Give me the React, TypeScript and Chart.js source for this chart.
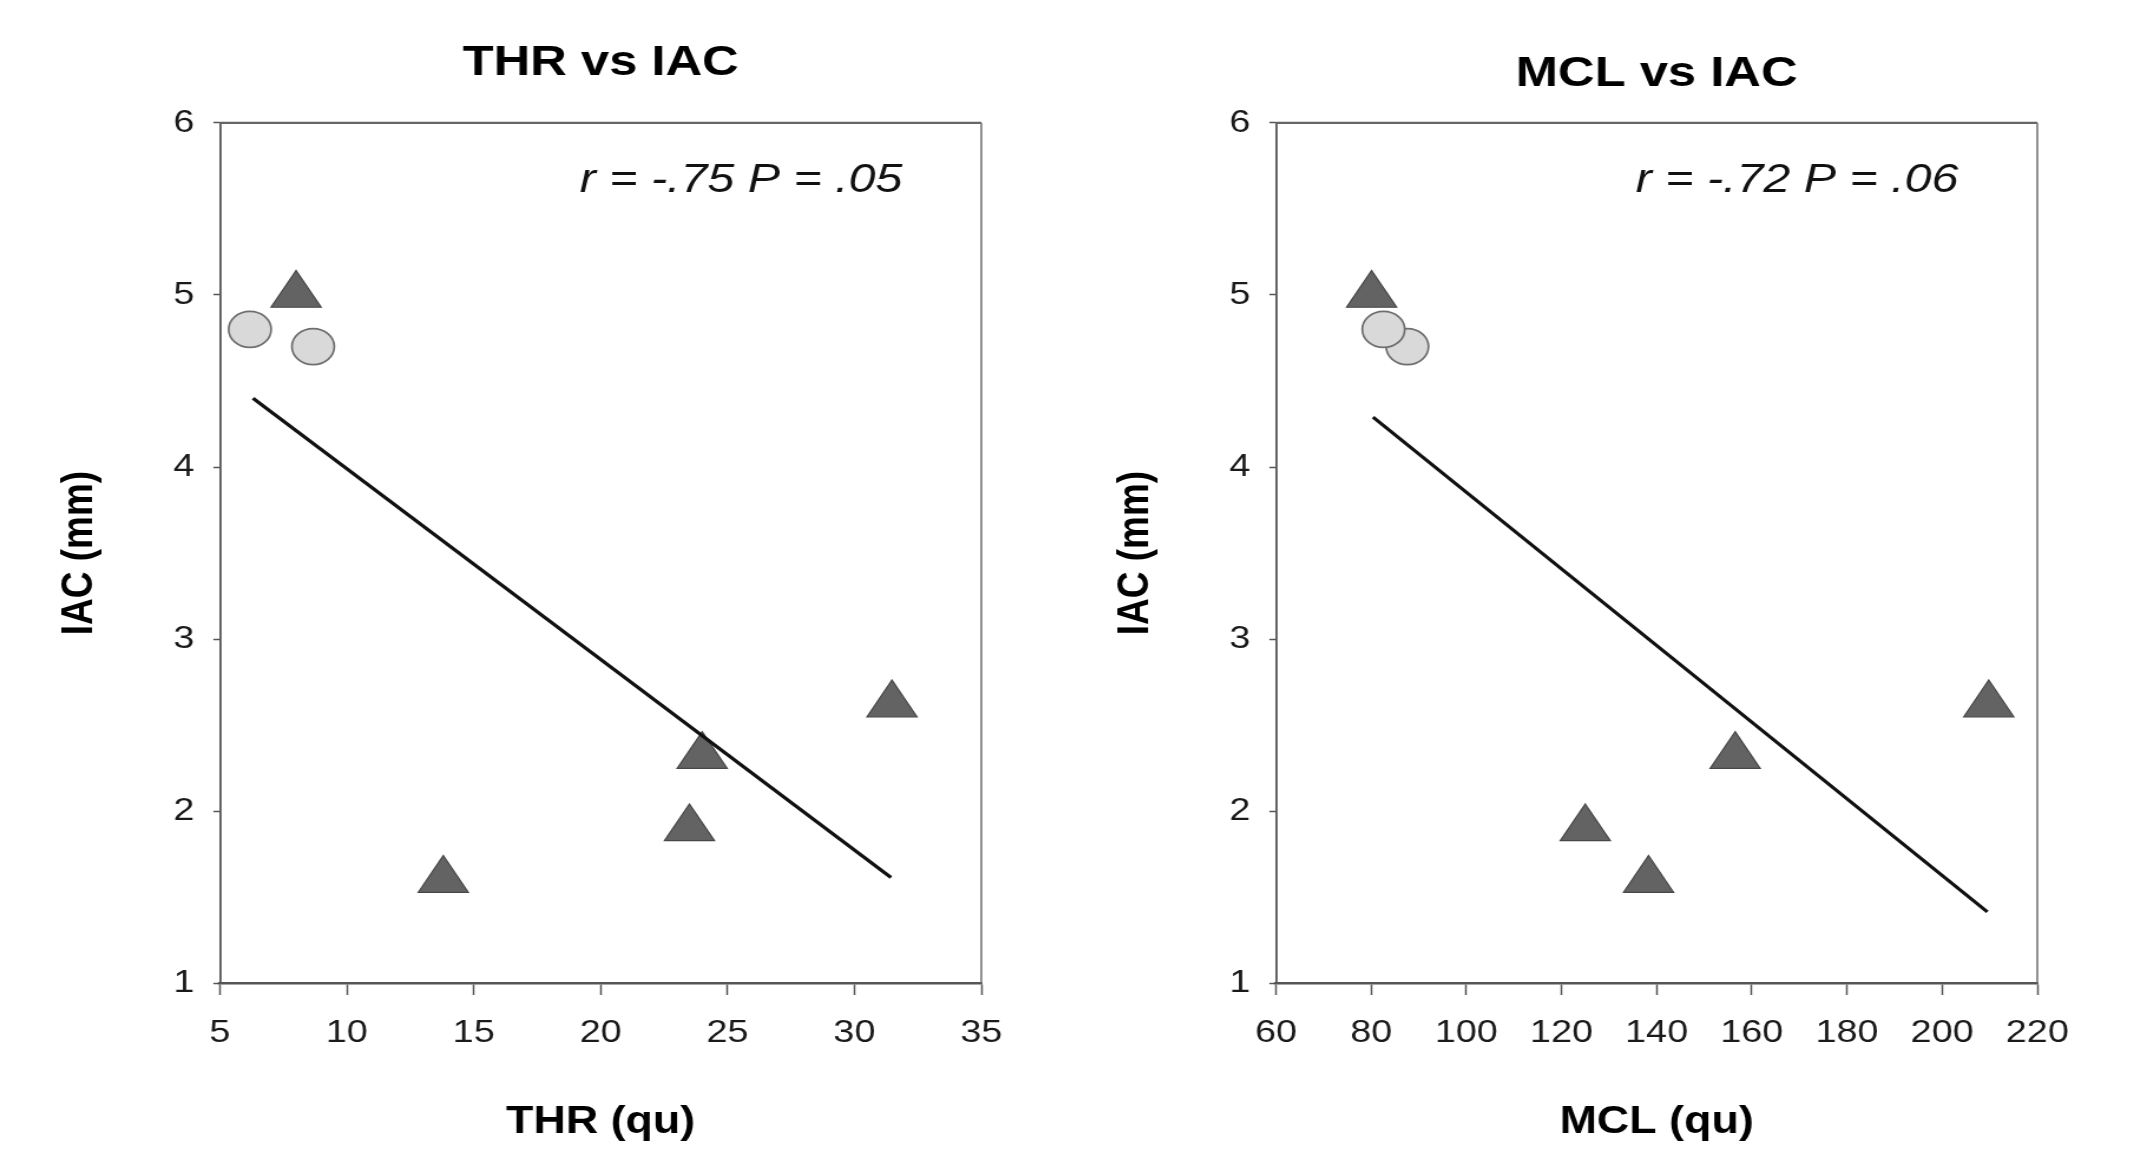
import React, { useEffect, useRef } from 'react';
import { Chart, registerables } from 'chart.js';

Chart.register(...registerables);

// ---- data ----
const iacCircles = [4.7, 4.8];
const thrCircles = [8.67, 6.18];
const mclCircles = [87.6, 82.6];

const iacTriangles = [5.0, 1.6, 1.9, 2.32, 2.62];
const thrTriangles = [8.0, 13.8, 23.5, 24.0, 31.48];
const mclTriangles = [80.1, 138.3, 125.0, 156.5, 209.8];

const thrFitX = [6.3, 31.44];
const thrFitY = [4.4, 1.615];
const mclFitX = [80.4, 209.5];
const mclFitY = [4.29, 1.415];

const panelTitles = ['THR vs IAC', 'MCL vs IAC'];
const xTitles = ['THR (qu)', 'MCL (qu)'];
const yTitle = 'IAC (mm)';
const annotations = ['r = -.75 P = .05', 'r = -.72 P = .06'];
const thrRange = { min: 5, max: 35, step: 5 };
const mclRange = { min: 60, max: 220, step: 20 };
const iacRange = { min: 1, max: 6, step: 1 };

// ---- layout ----
const INTERNAL_W = 886;
const CSS_W = 1045;
const H = 1155;
const FONT = "'Liberation Sans', Arial, Helvetica, sans-serif";

const framePlugin = {
  id: 'frame',
  beforeDatasetsDraw(chart: any) {
    const { ctx, chartArea } = chart;
    const { left, right, top, bottom } = chartArea;
    ctx.save();
    ctx.strokeStyle = '#666';
    ctx.lineWidth = 2.2;
    ctx.beginPath();
    ctx.moveTo(left, top);
    ctx.lineTo(right, top);
    ctx.stroke();
    ctx.lineWidth = 1.6;
    ctx.strokeStyle = '#777';
    ctx.beginPath();
    ctx.moveTo(right, top);
    ctx.lineTo(right, bottom);
    ctx.stroke();
    ctx.restore();
  },
};

const annotationPlugin = {
  id: 'annot',
  afterDatasetsDraw(chart: any, _args: any, opts: any) {
    const { ctx, chartArea } = chart;
    ctx.save();
    ctx.font = `italic 41px ${FONT}`;
    ctx.fillStyle = '#111';
    ctx.textAlign = 'right';
    ctx.textBaseline = 'middle';
    ctx.fillText(opts.text, chartArea.right - 67, chartArea.top + 57.3);
    ctx.restore();
  },
};

type PanelProps = {
  left: number;
  title: string;
  titlePad: { top: number; bottom: number };
  xTitle: string;
  range: { min: number; max: number; step: number };
  circlesX: number[];
  trianglesX: number[];
  fitX: number[];
  fitY: number[];
  annotation: string;
};

function Panel(p: PanelProps) {
  const ref = useRef<HTMLCanvasElement | null>(null);
  useEffect(() => {
    if (!ref.current) return;
    const chart = new Chart(ref.current, {
      type: 'scatter',
      data: {
        datasets: [
          {
            type: 'line',
            data: p.fitX.map((x, i) => ({ x, y: p.fitY[i] })),
            borderColor: '#111',
            borderWidth: 3.2,
            pointRadius: 0,
            showLine: true,
            fill: false,
            order: 0,
          } as any,
          {
            data: p.trianglesX.map((x, i) => ({ x, y: iacTriangles[i] })),
            pointStyle: 'triangle',
            pointRadius: 24.5,
            backgroundColor: '#636363',
            borderColor: '#474747',
            borderWidth: 1.2,
            order: 1,
          },
          {
            data: p.circlesX.map((x, i) => ({ x, y: iacCircles[i] })),
            pointStyle: 'circle',
            pointRadius: 18,
            backgroundColor: '#d9d9d9',
            borderColor: '#6e6e6e',
            borderWidth: 1.7,
            order: 2,
          },
        ],
      },
      options: {
        responsive: false,
        animation: false,
        devicePixelRatio: 1,
        layout: { padding: { left: 0, right: 54, top: 0, bottom: 0 } },
        plugins: {
          legend: { display: false },
          tooltip: { enabled: false },
          title: {
            display: true,
            text: p.title,
            fullSize: false,
            color: '#000',
            font: { size: 43, weight: 'bold', family: FONT },
            padding: p.titlePad,
          },
          annot: { text: p.annotation },
        } as any,
        scales: {
          x: {
            type: 'linear',
            position: 'bottom',
            min: p.range.min,
            max: p.range.max,
            ticks: {
              stepSize: p.range.step,
              color: '#1a1a1a',
              font: { size: 32, family: FONT },
              padding: 19,
              maxRotation: 0,
              autoSkip: false,
            },
            grid: {
              drawOnChartArea: false,
              drawTicks: true,
              tickLength: 11.7,
              tickColor: '#555',
              tickWidth: 1.5,
            },
            border: { display: true, color: '#555', width: 2.5 },
            title: {
              display: true,
              text: p.xTitle,
              color: '#000',
              font: { size: 38, weight: 'bold', family: FONT },
              padding: { top: 0, bottom: 9.2 },
            },
            afterFit: (s: any) => {
              s.height = 171.7;
            },
          },
          y: {
            type: 'linear',
            min: iacRange.min,
            max: iacRange.max,
            ticks: {
              stepSize: iacRange.step,
              color: '#1a1a1a',
              font: { size: 32, family: FONT },
              padding: 16,
            },
            grid: {
              drawOnChartArea: false,
              drawTicks: true,
              tickLength: 5.6,
              tickColor: '#555',
              tickWidth: 1.5,
            },
            border: { display: true, color: '#555', width: 1.8 },
            title: {
              display: true,
              text: yTitle,
              color: '#000',
              font: { size: 37, weight: 'bold', family: FONT },
              padding: { top: 45.6, bottom: 0 },
            },
            afterFit: (s: any) => {
              s.width = 186.5;
            },
          },
        },
      } as any,
      plugins: [framePlugin, annotationPlugin],
    });
    return () => chart.destroy();
  }, []);
  return (
    <canvas
      ref={ref}
      width={INTERNAL_W}
      height={H}
      style={{ position: 'absolute', left: p.left, top: 0, width: CSS_W + 'px', height: H + 'px' }}
    />
  );
}

export default function App() {
  return (
    <div style={{ position: 'absolute', left: 0, top: 0, width: 2146, height: H, background: '#fff', overflow: 'hidden' }}>
      <Panel
        left={0}
        title={panelTitles[0]}
        titlePad={{ top: 37, bottom: 34.3 }}
        xTitle={xTitles[0]}
        range={thrRange}
        circlesX={thrCircles}
        trianglesX={thrTriangles}
        fitX={thrFitX}
        fitY={thrFitY}
        annotation={annotations[0]}
      />
      <Panel
        left={1056}
        title={panelTitles[1]}
        titlePad={{ top: 48, bottom: 23.3 }}
        xTitle={xTitles[1]}
        range={mclRange}
        circlesX={mclCircles}
        trianglesX={mclTriangles}
        fitX={mclFitX}
        fitY={mclFitY}
        annotation={annotations[1]}
      />
    </div>
  );
}
